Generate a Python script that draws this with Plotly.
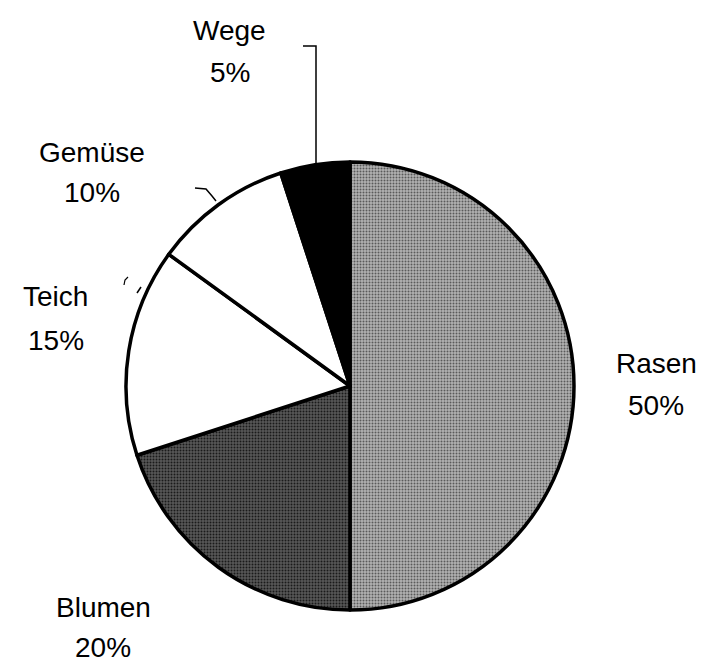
import plotly.graph_objects as go

# Data
labels = ["Rasen", "Blumen", "Teich", "Gemüse", "Wege"]
values = [50, 20, 15, 10, 5]
pct_labels = ["50%", "20%", "15%", "10%", "5%"]

# Styling
W, H = 717, 666
OFF = 8  # default page body margin in the browser
fill_colors = ["#b2b2b2", "#585858", "#ffffff", "#ffffff", "#000000"]
pattern_shapes = [".", ".", "", "", ""]
pattern_fg = ["#5a5a5a", "#1a1a1a", "#000000", "#000000", "#000000"]

# pie geometry in screen pixels (center, radius)
cx, cy, r = 350, 386, 224

def px(x):
    return (x - OFF) / W

def py(y):
    return 1 - (y - OFF) / H

fig = go.Figure(go.Pie(
    labels=labels,
    values=values,
    sort=False,
    direction="clockwise",
    rotation=0,
    textinfo="none",
    hoverinfo="skip",
    showlegend=False,
    domain=dict(x=[px(cx - r), px(cx + r)], y=[py(cy + r), py(cy - r)]),
    marker=dict(
        colors=fill_colors,
        line=dict(color="#000000", width=3.5),
        pattern=dict(shape=pattern_shapes, fgcolor=pattern_fg,
                     bgcolor=fill_colors, size=3, solidity=0.35),
    ),
))

# label positions (screen pixel centers of name line and percent line)
label_pos = {
    "Rasen": (656, 363, 405),
    "Blumen": (103, 607, 647),
    "Teich": (56, 297, 340),
    "Gemüse": (92, 152, 192),
    "Wege": (230, 30, 73),
}

annotations = []
for name, pct in zip(labels, pct_labels):
    x, y1, y2 = label_pos[name]
    for txt, yy in ((name, y1), (pct, y2)):
        annotations.append(dict(
            x=px(x), y=py(yy), xref="paper", yref="paper",
            text=txt, showarrow=False, xanchor="center", yanchor="middle",
            font=dict(family="Liberation Sans, Arial, sans-serif", size=28, color="#000000"),
        ))

def path(points):
    return "M " + " L ".join(f"{px(x)},{py(y)}" for x, y in points)

shapes = [
    dict(type="path", xref="paper", yref="paper",
         path=path([(316, 163), (316, 46), (303, 46)]),
         line=dict(color="#000000", width=1.5)),
    dict(type="path", xref="paper", yref="paper",
         path=path([(195, 188), (206, 189), (212, 196), (216, 201)]),
         line=dict(color="#000000", width=1.5)),
    dict(type="path", xref="paper", yref="paper",
         path=path([(137, 293), (141, 287)]),
         line=dict(color="#000000", width=1.5)),
    dict(type="path", xref="paper", yref="paper",
         path=path([(124, 285), (125, 280), (128, 277)]),
         line=dict(color="#000000", width=1.2)),
]

fig.update_layout(
    width=W, height=H,
    margin=dict(l=0, r=0, t=0, b=0),
    paper_bgcolor="#ffffff",
    plot_bgcolor="#ffffff",
    annotations=annotations,
    shapes=shapes,
)

fig.write_html("out.html")
